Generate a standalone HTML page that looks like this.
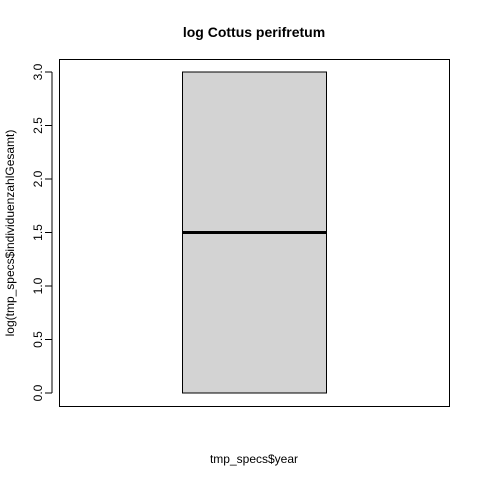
<!DOCTYPE html>
<html><head><meta charset="utf-8"><style>
body{margin:0;background:#fff}
text{font-family:"Liberation Sans",Arial,sans-serif;fill:#000}
</style></head><body>
<svg width="480" height="480" xmlns="http://www.w3.org/2000/svg">
<rect width="480" height="480" fill="#fff"/>
<text x="254" y="37" font-size="14" font-weight="bold" text-anchor="middle">log Cottus perifretum</text>
<rect x="59.5" y="59.5" width="390" height="347" fill="none" stroke="#000"/>
<g id="yaxis"></g>
<g id="box"></g>
<text x="254" y="463" font-size="12" text-anchor="middle">tmp_specs$year</text>
<text transform="translate(14,233) rotate(-90)" font-size="12" text-anchor="middle">log(tmp_specs$individuenzahlGesamt)</text>
</svg>
<script>
const yTicks=[0,0.5,1,1.5,2,2.5,3];
const yTickLabels=["0.0","0.5","1.0","1.5","2.0","2.5","3.0"];
const boxMin=[0];
const boxQ1=[0];
const boxMedian=[1.5];
const boxQ3=[3];
const boxMax=[3];
const NS="http://www.w3.org/2000/svg";
function y(v){return 393-v*107;}
function mk(t,a){const e=document.createElementNS(NS,t);for(const k in a)e.setAttribute(k,a[k]);return e;}
const ya=document.getElementById('yaxis');
ya.appendChild(mk('line',{x1:52,x2:52,y1:y(yTicks[0]),y2:y(yTicks[yTicks.length-1]),stroke:'#000'}));
yTicks.forEach((v,i)=>{
  const l=mk('line',{x1:45,x2:52,y1:y(v),y2:y(v),stroke:'#000'});
  
  
  ya.appendChild(l);
  const t=mk('text',{transform:`translate(42,${y(v)}) rotate(-90)`,'font-size':12,'text-anchor':'middle'});
  
  
  t.textContent=yTickLabels[i];ya.appendChild(t);
});
const b=document.getElementById('box');
boxMedian.forEach((m,i)=>{
  const x0=182.5,x1=326.5;
  const r=mk('rect',{x:x0,y:y(boxQ3[i]),width:x1-x0,height:y(boxQ1[i])-y(boxQ3[i]),fill:'#d3d3d3',stroke:'#000'});
  
  
  b.appendChild(r);
  const ml=mk('line',{x1:x0,x2:x1,y1:y(m),y2:y(m),stroke:'#000','stroke-width':3});
  
  
  b.appendChild(ml);
});
</script>
</body></html>
